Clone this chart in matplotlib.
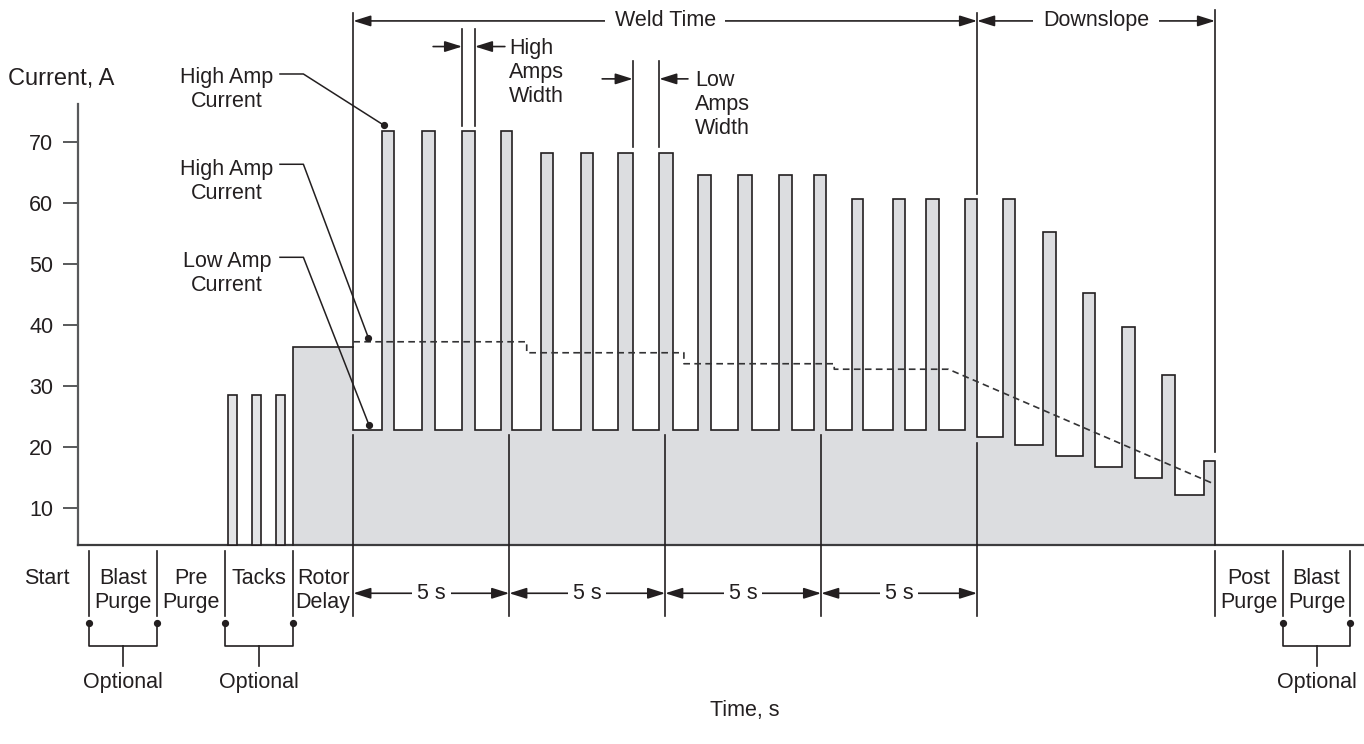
import matplotlib
matplotlib.use("Agg")
import matplotlib.pyplot as plt

plt.rcParams['font.family'] = ['Liberation Sans', 'DejaVu Sans']

# ---------------- data (time in s, current in A) ----------------
y_ticks = [10, 20, 30, 40, 50, 60, 70]
baseline = 3.9
axis_top = 76.2

tack_start = [-4.02, -3.25, -2.48]
tack_end = [-3.72, -2.95, -2.18]
tack_amp = [28.4, 28.4, 28.4]

rotor_start = -1.92
rotor_amp = 36.3
weld_low = 22.7

pulse_start = [0.91, 2.21, 3.49, 4.73, 6.01, 7.29, 8.50, 9.81, 11.04, 12.33, 13.65,
               14.76, 15.99, 17.29, 18.35, 19.62, 20.83, 22.12, 23.40, 24.66, 25.94, 27.27]
pulse_end = [1.30, 2.61, 3.90, 5.10, 6.39, 7.69, 8.96, 10.26, 11.48, 12.79, 14.06,
             15.15, 16.35, 17.68, 18.77, 20.00, 21.22, 22.52, 23.77, 25.05, 26.35, 27.62]
pulse_high = [71.8, 71.8, 71.8, 71.8, 68.1, 68.1, 68.1, 68.1, 64.5, 64.5, 64.5,
              64.5, 60.6, 60.6, 60.6, 60.6, 60.6, 55.2, 45.2, 39.6, 31.7, 17.7]
low_after = [22.7, 22.7, 22.7, 22.7, 22.7, 22.7, 22.7, 22.7, 22.7, 22.7, 22.7,
             22.7, 22.7, 22.7, 22.7, 21.6, 20.3, 18.4, 16.7, 14.9, 12.0, 3.9]

dash_t = [0, 5.56, 5.56, 10.60, 10.60, 15.42, 15.42, 19.08, 27.55]
dash_a = [37.2, 37.2, 35.4, 35.4, 33.6, 33.6, 32.7, 32.7, 14.0]

weld_marks = [0, 5, 10, 15, 20]
weld_mark_top = [21.9, 21.9, 21.9, 21.9, 20.6]
weld_end = 20
downslope_end = 27.63

phase_bounds_left = [-8.46, -6.28, -4.11, -1.94]
phase_labels_left = ["Blast\nPurge", "Pre\nPurge", "Tacks", "Rotor\nDelay"]
phase_bounds_right = [27.63, 29.80, 31.97]
phase_labels_right = ["Post\nPurge", "Blast\nPurge"]

INK = '#231f20'
FILL = '#dcdde0'
FILL_T = '#e3e4e6'
AXC = '#58595b'
FS = 15.5

fig = plt.figure(figsize=(13.64, 7.44), dpi=100)
ax = fig.add_axes([0, 0, 1, 1])
ax.set_xlim(-11.327, 32.405)
ax.set_ylim(-28.74, 93.23)

# axes spines as the chart axes
for s in ['top', 'right']:
    ax.spines[s].set_visible(False)
ax.spines['left'].set_position(('data', -8.83))
ax.spines['left'].set_bounds(baseline, axis_top)
ax.spines['left'].set_color(AXC)
ax.spines['left'].set_linewidth(1.6)
ax.spines['bottom'].set_position(('data', baseline))
ax.spines['bottom'].set_bounds(-8.83, 32.405)
ax.spines['bottom'].set_color('#3c3c3e')
ax.spines['bottom'].set_linewidth(1.6)
ax.set_xticks([])
ax.set_yticks(y_ticks)
ax.set_yticklabels([str(v) for v in y_ticks])
ax.tick_params(axis='y', direction='out', length=11, width=1.4, color=AXC,
               pad=6.8, labelsize=FS, labelcolor=INK)

# ---------------- waveform ----------------
xs = [rotor_start, rotor_start, 0, 0]
ys = [baseline, rotor_amp, rotor_amp, weld_low]
for s, e, h, lo in zip(pulse_start, pulse_end, pulse_high, low_after):
    prev = ys[-1]
    xs += [s, s, e, e]
    ys += [prev, h, h, lo]
ax.fill(xs, ys, color=FILL, zorder=1, lw=0)
ax.plot(xs, ys, color=INK, lw=1.2, zorder=3, solid_joinstyle='miter')

# tacks
tw = [e - s for s, e in zip(tack_start, tack_end)]
ax.bar(tack_start, [a - baseline for a in tack_amp], width=tw, bottom=baseline,
       align='edge', facecolor=FILL_T, edgecolor=INK, linewidth=1.2, zorder=3)

# dashed average line
ax.plot(dash_t, dash_a, color='#333335', lw=1.2, ls=(0, (4, 2.6)), zorder=4)

# ---------------- vertical guide lines ----------------
lk = dict(color=INK, lw=1.2, zorder=3)
ax.plot([0, 0], [rotor_amp, 91.1], **lk)
ax.plot([weld_end, weld_end], [61.5, 91.1], **lk)
ax.plot([downslope_end, downslope_end], [19.1, 91.6], **lk)
for t, top in zip(weld_marks, weld_mark_top):
    ax.plot([t, t], [top, -7.76], **lk)
for t in phase_bounds_left + phase_bounds_right:
    ax.plot([t, t], [2.95, -7.76], **lk)

# ---------------- arrows ----------------
def darrow(x0, x1, y, text, pad=6):
    ax.annotate('', xy=(x0, y), xytext=(x1, y),
                arrowprops=dict(arrowstyle='<|-|>,head_length=0.7,head_width=0.22',
                                mutation_scale=15, lw=1.2, color=INK,
                                shrinkA=0, shrinkB=0), zorder=4)
    ax.text((x0 + x1) / 2, y, text, ha='center', va='center', fontsize=FS, color=INK,
            zorder=6, bbox=dict(fc='white', ec='none', pad=pad))

darrow(0, weld_end, 89.8, 'Weld Time', pad=7)
darrow(weld_end, downslope_end, 89.8, 'Downslope', pad=7)
for a, b in zip(weld_marks[:-1], weld_marks[1:]):
    darrow(a, b, -4.03, '5 s', pad=3.5)

def sarrow(xtail, xtip, y):
    ax.annotate('', xy=(xtip, y), xytext=(xtail, y),
                arrowprops=dict(arrowstyle='-|>,head_length=0.7,head_width=0.22',
                                mutation_scale=15, lw=1.2, color=INK,
                                shrinkA=0, shrinkB=0), zorder=4)

# High amps width
hx0, hx1 = pulse_start[2], pulse_end[2]
ax.plot([hx0, hx0], [72.6, 88.4], **lk)
ax.plot([hx1, hx1], [72.6, 88.4], **lk)
sarrow(2.56, hx0, 85.6)
sarrow(4.86, hx1, 85.6)
# Low amps width
lx0, lx1 = pulse_end[6], pulse_start[7]
ax.plot([lx0, lx0], [69.2, 83.2], **lk)
ax.plot([lx1, lx1], [69.2, 83.2], **lk)
sarrow(7.98, lx0, 80.3)
sarrow(10.73, lx1, 80.3)

def lines(x, ys_, texts, ha='center', fs=FS):
    for yy, tt in zip(ys_, texts):
        ax.text(x, yy, tt, ha=ha, va='center', fontsize=fs, color=INK, zorder=6)

LS = 3.93
lines(5.0, [85.3, 85.3 - LS, 85.3 - 2 * LS], ['High', 'Amps', 'Width'], ha='left')
lines(10.95, [80.0, 80.0 - LS, 80.0 - 2 * LS], ['Low', 'Amps', 'Width'], ha='left')

# left callouts
lines(-4.05, [80.5, 80.5 - LS], ['High Amp', 'Current'])
lines(-4.05, [65.5, 65.5 - LS], ['High Amp', 'Current'])
lines(-4.05, [50.4, 50.4 - LS], ['Low Amp', 'Current'])
for ly, tx, ty in [(81.1, 0.98, 72.7), (66.3, 0.48, 37.9), (51.05, 0.50, 23.6)]:
    ax.plot([-2.35, -1.60, tx], [ly, ly, ty], color=INK, lw=1.1, zorder=5)
    ax.plot([tx], [ty], 'o', color=INK, ms=4.2, zorder=6)

ax.text(-11.07, 80.3, 'Current, A', ha='left', va='center', fontsize=17, color=INK)

# ---------------- bottom phase labels ----------------
L1, L2 = -1.6, -5.55
lines(-9.82, [L1], ['Start'])
def phase_text(bounds, labels):
    for a, b, lab in zip(bounds[:-1], bounds[1:], labels):
        parts = lab.split('\n')
        lines((a + b) / 2, [L1, L2][:len(parts)], parts)
phase_text(phase_bounds_left + [0], phase_labels_left)
phase_text(phase_bounds_right, phase_labels_right)

def bracket(a, b, y_dot=-8.9, y_bar=-12.6, y_stem=-15.9, y_txt=-18.6):
    m = (a + b) / 2
    ax.plot([a, a, b, b], [y_dot, y_bar, y_bar, y_dot], color=INK, lw=1.2)
    ax.plot([m, m], [y_bar, y_stem], color=INK, lw=1.2)
    ax.plot([a, b], [y_dot, y_dot], 'o', color=INK, ms=4.2, ls='none')
    ax.text(m, y_txt, 'Optional', ha='center', va='center', fontsize=FS, color=INK)

bracket(phase_bounds_left[0], phase_bounds_left[1])
bracket(phase_bounds_left[2], phase_bounds_left[3])
bracket(phase_bounds_right[1], phase_bounds_right[2])

ax.text(12.56, -23.3, 'Time, s', ha='center', va='center', fontsize=FS, color=INK)

fig.savefig('out.png', dpi=100, facecolor='white')
